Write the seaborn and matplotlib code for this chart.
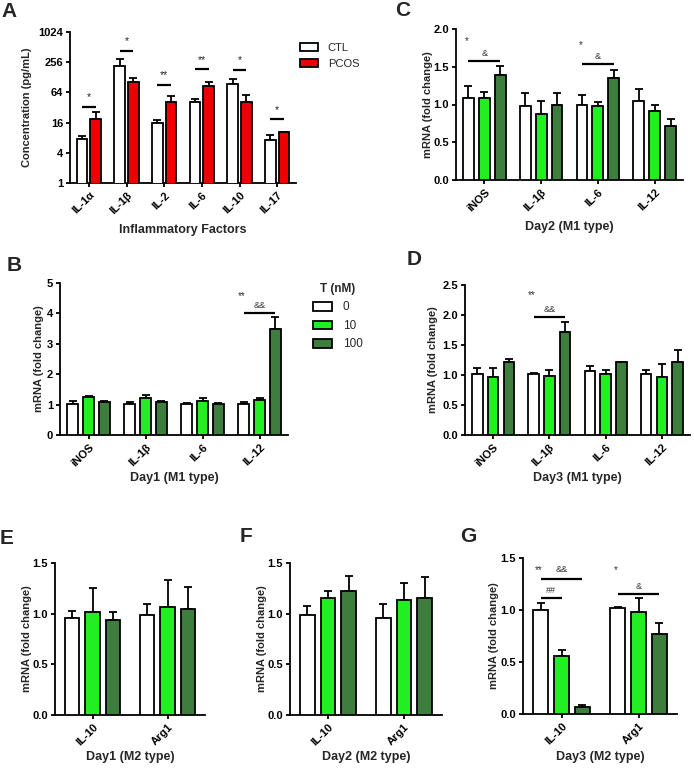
import matplotlib
matplotlib.use("Agg")
import matplotlib.pyplot as plt
import numpy as np
import pandas as pd
import seaborn as sns
from matplotlib.ticker import NullLocator

# ---- panel A: cytokine concentration, CTL vs PCOS (mean / SEM, pg/mL)
cytokines = ["IL-1α", "IL-1β", "IL-2", "IL-6", "IL-10", "IL-17"]
groups_a = ["CTL", "PCOS"]
conc_mean = [
    [7.4, 217, 15.9, 40.5, 92, 7.2],   # CTL
    [18.5, 105, 40.5, 86, 42, 10.3],   # PCOS
]
conc_sem = [
    [1.2, 83, 2.1, 6.9, 27, 1.8],
    [7.9, 18, 14.5, 19, 14, 0.3],
]
conc_ticks = [1, 4, 16, 64, 256, 1024]
sig_a_line = [33, 420, 90, 186, 180, 18.5]
sig_a_text_y = [52, 660, 143, 286, 286, 28.5]
sig_a_text = ["*", "*", "**", "**", "*", "*"]

# ---- panels B-G: mRNA fold change, rows = T 0 / 10 / 100 nM
doses = ["0", "10", "100"]
m1_genes = ["iNOS", "IL-1β", "IL-6", "IL-12"]
m2_genes = ["IL-10", "Arg1"]

b_mean = [[1.01, 1.01, 1.02, 1.01], [1.25, 1.21, 1.12, 1.15], [1.10, 1.07, 1.03, 3.48]]
b_sem = [[0.11, 0.07, 0.02, 0.06], [0.02, 0.09, 0.11, 0.06], [0.03, 0.06, 0.01, 0.39]]
c_mean = [[1.09, 0.98, 1.00, 1.04], [1.08, 0.88, 0.98, 0.91], [1.39, 0.99, 1.35, 0.72]]
c_sem = [[0.15, 0.17, 0.12, 0.16], [0.09, 0.16, 0.05, 0.09], [0.12, 0.16, 0.11, 0.09]]
d_mean = [[1.01, 1.01, 1.06, 1.02], [0.96, 0.98, 1.01, 0.97], [1.21, 1.72, 1.21, 1.22]]
d_sem = [[0.10, 0.03, 0.09, 0.07], [0.15, 0.10, 0.08, 0.22], [0.05, 0.17, 0.01, 0.20]]
e_mean = [[0.96, 0.99], [1.02, 1.07], [0.94, 1.05]]
e_sem = [[0.07, 0.11], [0.23, 0.26], [0.08, 0.21]]
f_mean = [[0.99, 0.96], [1.15, 1.13], [1.22, 1.15]]
f_sem = [[0.09, 0.14], [0.07, 0.17], [0.15, 0.21]]
g_mean = [[1.00, 1.02], [0.56, 0.98], [0.07, 0.77]]
g_sem = [[0.07, 0.01], [0.06, 0.14], [0.02, 0.105]]

# significance: brackets (gene, from dose, to dose, line y, label, label y)
# and marks (gene, dose, y, label)
b_brackets = [(3, 0, 2, 4.01, "&&", 4.27)]
b_marks = [(3, 0, 4.56, "**")]
c_brackets = [(0, 0, 2, 1.58, "&", 1.68), (2, 0, 2, 1.54, "&", 1.64)]
c_marks = [(0, 0, 1.84, "*"), (2, 0, 1.79, "*")]
d_brackets = [(1, 0, 2, 1.97, "&&", 2.10)]
d_marks = [(1, 0, 2.33, "**")]
g_brackets = [(0, 0, 2, 1.30, "&&", 1.39), (0, 0, 1, 1.115, "##", 1.19),
              (1, 0, 2, 1.157, "&", 1.23)]
g_marks = [(0, 0, 1.38, "**"), (1, 0, 1.38, "*")]

palette_a = {"CTL": "white", "PCOS": "#ee0000"}
palette_t = {"0": "white", "10": "#22ee22", "100": "#3d7d3d"}

W, H = 694, 769

sns.set_style("ticks")
plt.rcParams["font.family"] = ["Liberation Sans", "DejaVu Sans"]
plt.rcParams["font.weight"] = "bold"
plt.rcParams["axes.labelweight"] = "bold"

fig = plt.figure(figsize=(W / 100, H / 100), dpi=100)


def px_axes(left, top, right, bottom):
    return fig.add_axes([left / W, 1 - bottom / H, (right - left) / W, (bottom - top) / H])


def draw_bars(ax, genes, levels, means, sems, palette, width, gap):
    df = pd.DataFrame(
        [(g, lv, means[i][j]) for i, lv in enumerate(levels) for j, g in enumerate(genes)],
        columns=["gene", "group", "value"],
    )
    sns.barplot(
        data=df, x="gene", y="value", hue="group", order=genes, hue_order=levels,
        palette=palette, saturation=1, width=width, gap=gap, errorbar=None,
        edgecolor="black", linewidth=1.3, legend=False, ax=ax, zorder=3,
    )
    bars = list(ax.containers[: len(levels)])
    # upper half error bars only (Prism style)
    for i, cont in enumerate(bars):
        for j, bar in enumerate(cont):
            xc = bar.get_x() + bar.get_width() / 2
            ax.errorbar(xc, means[i][j], yerr=[[0], [sems[i][j]]], fmt="none",
                        ecolor="black", elinewidth=1.3, capsize=3, capthick=1.3, zorder=2)
    return bars


def center(bar):
    return bar.get_x() + bar.get_width() / 2


def annotate(ax, bars, brackets, marks):
    for gene, h0, h1, y, label, ly in brackets:
        x0, x1 = center(bars[h0][gene]), center(bars[h1][gene])
        ax.plot([x0, x1], [y, y], color="black", lw=1.6, solid_capstyle="butt", zorder=4)
        ax.text((x0 + x1) / 2, ly, label, ha="center", va="center", fontsize=6.5,
                fontweight="normal", color="#333333")
    for gene, h, y, label in marks:
        ax.text(center(bars[h][gene]) - 0.03, y, label, ha="center", va="center",
                fontsize=7, fontweight="normal", color="#333333")


def style(ax, xlabel, ylabel, xlab_y, ylab_x):
    sns.despine(ax=ax)
    for s in ax.spines.values():
        s.set_linewidth(1.3)
        s.set_color("black")
    ax.tick_params(width=1.3, length=3, labelsize=8, colors="black", pad=2)
    ax.set_xlabel(xlabel, fontsize=9)
    ax.set_ylabel(ylabel, fontsize=8)
    ax.xaxis.set_label_coords(0.5, xlab_y)
    ax.yaxis.set_label_coords(ylab_x, 0.5)
    for lab in ax.get_xticklabels():
        lab.set_rotation(45)
        lab.set_ha("right")
        lab.set_rotation_mode("anchor")


# ---- A
ax_a = px_axes(70, 32, 296, 183)
bars_a = draw_bars(ax_a, cytokines, groups_a, conc_mean, conc_sem, palette_a,
                   width=0.72, gap=0.22)
ax_a.set_yscale("log", base=2)
ax_a.set_ylim(1, 1024)
ax_a.set_yticks(conc_ticks, labels=[str(t) for t in conc_ticks])
ax_a.yaxis.set_minor_locator(NullLocator())
ax_a.set_xlim(-0.5, len(cytokines) - 0.5)
for j in range(len(cytokines)):
    x0, x1 = center(bars_a[0][j]), center(bars_a[1][j])
    ax_a.plot([x0, x1], [sig_a_line[j]] * 2, color="black", lw=1.6, solid_capstyle="butt")
    ax_a.text((x0 + x1) / 2, sig_a_text_y[j], sig_a_text[j], ha="center", va="center",
              fontsize=7.5, fontweight="normal", color="#222222")
ax_a.legend(bars_a, groups_a, loc="upper left", bbox_to_anchor=(1.018, 0.93),
            frameon=False, prop={"weight": "normal", "size": 8}, handlelength=1.6,
            handleheight=0.75, handletextpad=0.9, labelspacing=0.55, borderpad=0,
            borderaxespad=0)
style(ax_a, "Inflammatory Factors", "Concentration (pg/mL)", -0.27, -0.17)

# ---- B
ax_b = px_axes(60, 283, 288, 435)
bars_b = draw_bars(ax_b, m1_genes, doses, b_mean, b_sem, palette_t, width=0.84, gap=0.32)
ax_b.set_ylim(0, 5)
ax_b.set_yticks(range(0, 6))
ax_b.set_xlim(-0.5, 3.5)
annotate(ax_b, bars_b, b_brackets, b_marks)
leg = ax_b.legend(bars_b, doses, loc="upper left", bbox_to_anchor=(1.11, 1.0),
                  frameon=False, prop={"weight": "normal", "size": 8.5}, title="T (nM)",
                  title_fontproperties={"weight": "bold", "size": 8.5},
                  handlelength=1.6, handleheight=0.75, handletextpad=0.9,
                  labelspacing=0.55, borderpad=0, borderaxespad=0)
style(ax_b, "Day1 (M1 type)", "mRNA (fold change)", -0.245, -0.07)

# ---- C
ax_c = px_axes(456, 29, 683, 180)
bars_c = draw_bars(ax_c, m1_genes, doses, c_mean, c_sem, palette_t, width=0.84, gap=0.32)
ax_c.set_ylim(0, 2)
ax_c.set_yticks(np.arange(0, 2.01, 0.5))
ax_c.set_xlim(-0.5, 3.5)
annotate(ax_c, bars_c, c_brackets, c_marks)
style(ax_c, "Day2 (M1 type)", "mRNA (fold change)", -0.27, -0.1)

# ---- D
ax_d = px_axes(465, 285, 690, 435)
bars_d = draw_bars(ax_d, m1_genes, doses, d_mean, d_sem, palette_t, width=0.84, gap=0.32)
ax_d.set_ylim(0, 2.5)
ax_d.set_yticks(np.arange(0, 2.51, 0.5))
ax_d.set_xlim(-0.5, 3.5)
annotate(ax_d, bars_d, d_brackets, d_marks)
style(ax_d, "Day3 (M1 type)", "mRNA (fold change)", -0.247, -0.12)

# ---- E, F, G
m2_panels = [
    ((55, 563, 205, 715), e_mean, e_sem, [], [], "Day1 (M2 type)", -0.153),
    ((290, 563, 442, 715), f_mean, f_sem, [], [], "Day2 (M2 type)", -0.151),
    ((523, 558, 677, 714), g_mean, g_sem, g_brackets, g_marks, "Day3 (M2 type)", -0.155),
]
for rect, means, sems, brackets, marks, xlabel, ylab_x in m2_panels:
    ax = px_axes(*rect)
    bars = draw_bars(ax, m2_genes, doses, means, sems, palette_t, width=0.81, gap=0.3)
    ax.set_ylim(0, 1.5)
    ax.set_yticks(np.arange(0, 1.51, 0.5))
    ax.set_xlim(-0.5, 1.5)
    annotate(ax, bars, brackets, marks)
    style(ax, xlabel, "mRNA (fold change)", -0.235, ylab_x)

# ---- panel letters
for letter, (px, py) in {"A": (1, 2), "B": (7, 256), "C": (395, 1), "D": (407, 250),
                         "E": (0, 529), "F": (240, 527), "G": (460, 527)}.items():
    fig.text(px / W, 1 - py / H, letter, ha="left", va="top", fontsize=15,
             fontweight="bold")

fig.savefig("out.png", dpi=100)
